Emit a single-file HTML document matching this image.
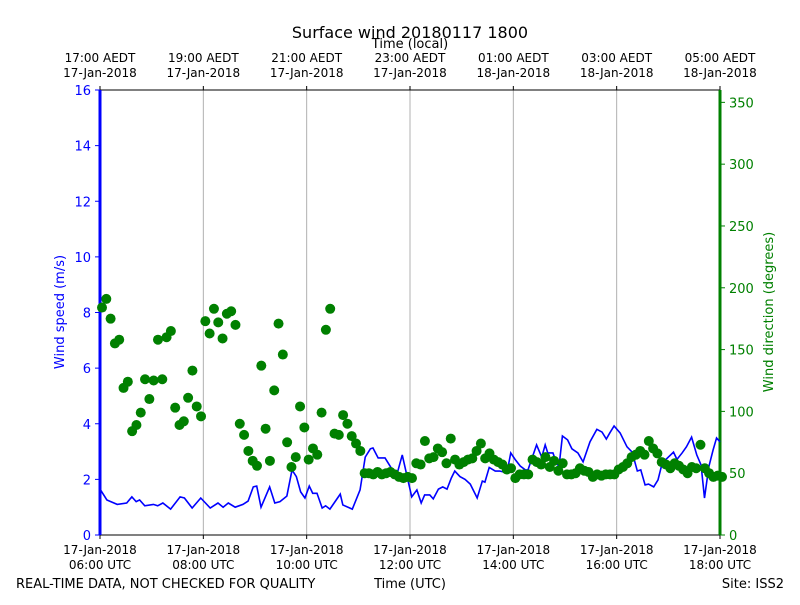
<!DOCTYPE html>
<html><head><meta charset="utf-8"><style>
body{margin:0;background:#fff;font-family:"Liberation Sans","DejaVu Sans",sans-serif;}
svg text{font-family:"DejaVu Sans","Liberation Sans",sans-serif;}
</style></head><body>
<svg id="chart" width="800" height="600" xmlns="http://www.w3.org/2000/svg"></svg>
<script>
const speedMinutes=[0,8,20,31,37,42,46,52,62,67,73,82,93,98,107,117,128,137,143,149,157,166,172,178,182,187,197,203,209,217,223,228,233,238,243,247,252,258,262,267,279,282,293,302,308,314,317,323,331,339,345,351,362,368,373,377,383,387,393,398,403,408,412,418,424,430,438,444,447,452,459,464,468,473,477,482,488,494,497,503,507,513,517,520,526,530,533,537,543,548,555,561,569,577,583,588,592,597,604,612,618,624,628,633,637,643,648,653,659,666,670,676,681,687,693,698,702,707,712,716,720];
const speedValues=[1.65,1.26,1.1,1.15,1.37,1.2,1.26,1.05,1.1,1.05,1.15,0.93,1.37,1.33,0.97,1.33,0.97,1.15,1.0,1.15,1.0,1.1,1.22,1.73,1.76,1.0,1.73,1.15,1.2,1.4,2.34,2.1,1.55,1.33,1.76,1.5,1.5,0.97,1.05,0.93,1.47,1.08,0.93,1.62,2.8,3.1,3.13,2.77,2.77,2.37,2.2,2.88,1.37,1.62,1.15,1.44,1.44,1.3,1.65,1.73,1.65,2.05,2.3,2.1,2.0,1.83,1.33,1.94,1.9,2.43,2.3,2.3,2.27,2.3,2.95,2.72,2.48,2.34,2.34,2.88,3.24,2.8,3.24,2.95,2.95,2.6,2.45,3.56,3.42,3.1,2.95,2.63,3.35,3.8,3.7,3.45,3.67,3.92,3.67,3.17,2.98,2.3,2.34,1.8,1.83,1.73,1.98,2.6,2.77,2.98,2.72,2.95,3.17,3.52,2.88,2.52,1.33,2.45,3.06,3.49,3.35];
const dirValues=[184,191,175,155,158,119,124,84,89,99,126,110,125,158,126,160,165,103,89,92,111,133,104,96,173,163,183,172,159,179,181,170,90,81,68,60,56,137,86,60,117,171,146,75,55,63,104,87,61,70,65,99,166,183,82,81,97,90,80,74,68,50,50,49,51,49,50,51,49,47,46,47,46,58,57,76,62,63,70,67,58,78,61,57,59,61,62,68,74,62,66,61,59,57,53,54,46,49,49,49,61,59,57,63,55,60,52,58,49,49,50,54,52,51,47,49,48,49,49,49,53,55,58,63,65,68,65,76,70,66,59,57,54,58,56,53,50,55,54,73,54,50,47,48,47];
const dirStepMinutes=5;
const speedTicks=[0,2,4,6,8,10,12,14,16];
const dirTicks=[0,50,100,150,200,250,300,350];
const tickMinutes=[0,120,240,360,480,600,720];
const utcLabels=[["17-Jan-2018","06:00 UTC"],["17-Jan-2018","08:00 UTC"],["17-Jan-2018","10:00 UTC"],["17-Jan-2018","12:00 UTC"],["17-Jan-2018","14:00 UTC"],["17-Jan-2018","16:00 UTC"],["17-Jan-2018","18:00 UTC"]];
const localLabels=[["17:00 AEDT","17-Jan-2018"],["19:00 AEDT","17-Jan-2018"],["21:00 AEDT","17-Jan-2018"],["23:00 AEDT","17-Jan-2018"],["01:00 AEDT","18-Jan-2018"],["03:00 AEDT","18-Jan-2018"],["05:00 AEDT","18-Jan-2018"]];

const L=100,R=720,T=90,B=535;
const xS=m=>L+(m/720)*(R-L);
const yS=v=>B-(v/16)*(B-T);
const yD=d=>B-(d/360)*(B-T);
const svg=document.getElementById('chart');
const NS='http://www.w3.org/2000/svg';
function mk(tag,attrs,parent){const e=document.createElementNS(NS,tag);for(const k in attrs)e.setAttribute(k,attrs[k]);(parent||svg).appendChild(e);return e;}
function txt(x,y,s,size,fill,anchor,name,rot){const t=mk('text',{x:x,y:y,'font-size':size,fill:fill,'text-anchor':anchor||'middle'});if(rot)t.setAttribute('transform',`rotate(-90 ${x} ${y})`);t.textContent=s;


return t;}

// grid
tickMinutes.forEach((m,i)=>{
  if(i>0&&i<tickMinutes.length-1){const g=mk('line',{x1:xS(m),x2:xS(m),y1:T,y2:B,stroke:'#b0b0b0','stroke-width':1});
  
  }
  const tb=mk('line',{x1:xS(m),x2:xS(m),y1:B,y2:B+4,stroke:'#000'});
  
  
  const tt=mk('line',{x1:xS(m),x2:xS(m),y1:T,y2:T-4,stroke:'#000'});
  
  
  txt(xS(m),554,utcLabels[i][0],12,'#000','middle','x-tick-label');
  txt(xS(m),569,utcLabels[i][1],12,'#000','middle','x-tick-label');
  txt(xS(m),62,localLabels[i][0],12,'#000','middle','top-tick-label');
  txt(xS(m),77,localLabels[i][1],12,'#000','middle','top-tick-label');
});
// frame
const fr=mk('rect',{x:L,y:T,width:R-L,height:B-T,fill:'none',stroke:'#000','stroke-width':1});


const ls=mk('line',{x1:L,x2:L,y1:T,y2:B,stroke:'#0000ff','stroke-width':3});


const rs=mk('line',{x1:R,x2:R,y1:T,y2:B,stroke:'#008000','stroke-width':3});


speedTicks.forEach(v=>{
  const l=mk('line',{x1:L-5,x2:L,y1:yS(v),y2:yS(v),stroke:'#0000ff'});
  
  
  txt(L-9,yS(v)+5,String(v),13,'#0000ff','end','y-tick-label');
});
dirTicks.forEach(v=>{
  const l=mk('line',{x1:R,x2:R+5,y1:yD(v),y2:yD(v),stroke:'#008000'});
  
  
  txt(R+9,yD(v)+5,String(v),13,'#008000','start','y2-tick-label');
});
// speed line
const pts=speedMinutes.map((m,i)=>xS(m)+','+yS(speedValues[i])).join(' ');
const pl=mk('polyline',{points:pts,fill:'none',stroke:'#0000ff','stroke-width':1.6});


// direction dots
dirValues.forEach((d,i)=>{
  const c=mk('circle',{cx:xS(i*dirStepMinutes)+2,cy:yD(d),r:5,fill:'#008000'});
  
  
});
txt(410,38,'Surface wind 20180117 1800',16,'#000','middle','chart-title');
txt(410,48,'Time (local)',13,'#000','middle','top-axis-title');
txt(64,312,'Wind speed (m/s)',13,'#0000ff','middle','y-axis-title',true);
txt(773,312,'Wind direction (degrees)',13,'#008000','middle','y2-axis-title',true);
txt(16,588,'REAL-TIME DATA, NOT CHECKED FOR QUALITY',13,'#000','start','quality-note');
txt(410,588,'Time (UTC)',13,'#000','middle','x-axis-title');
txt(784,588,'Site: ISS2',13,'#000','end','site-label');
</script>
</body></html>
